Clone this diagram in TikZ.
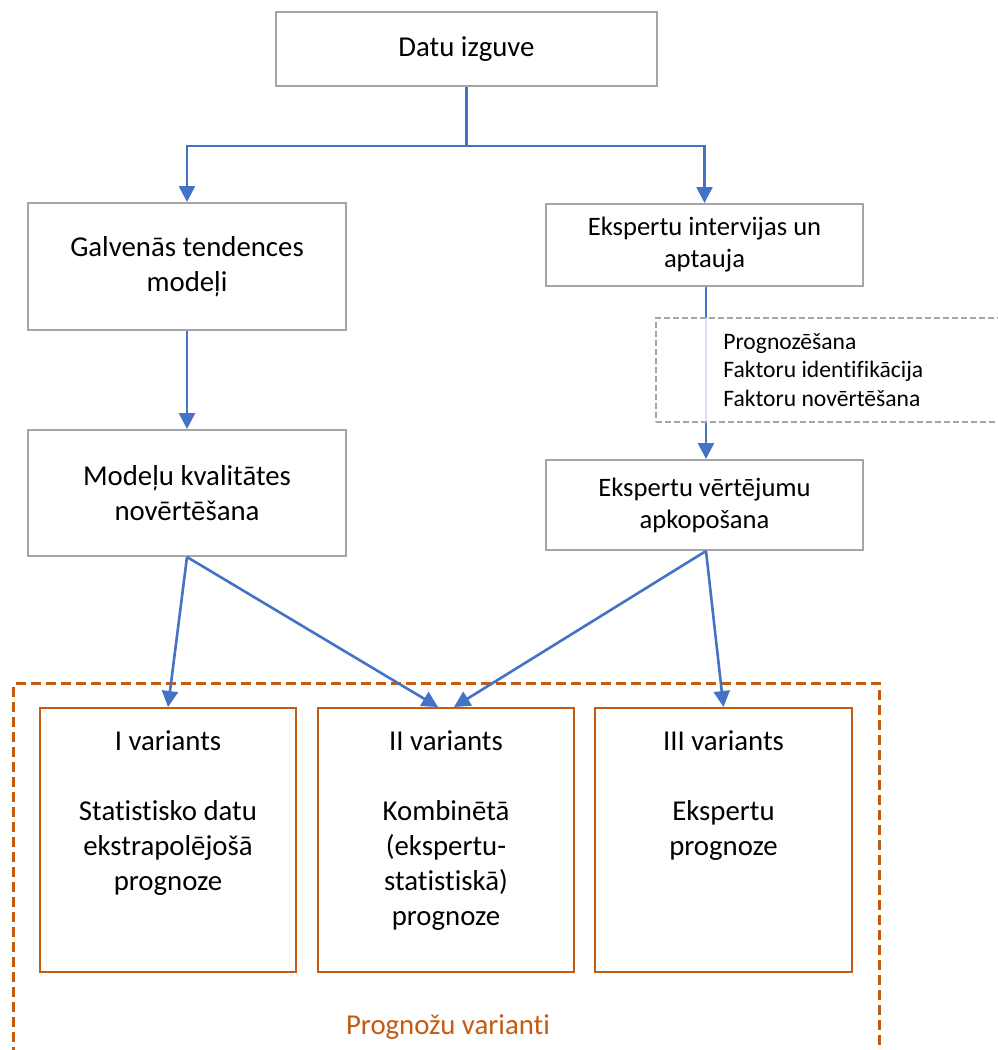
\documentclass[tikz,border=0pt]{standalone}
\usepackage{fontspec}
\setmainfont{Carlito}[Ligatures={NoCommon}]
\usetikzlibrary{arrows.meta,calc}
\definecolor{lnblue}{RGB}{68,114,196}
\definecolor{boxgray}{RGB}{165,165,165}
\definecolor{orng}{RGB}{197,90,17}
\newdimen\pu \pu=0.5pt
\newcommand\mainfs{\fontsize{14.4pt}{17.5pt}\selectfont}
\newcommand\rightfs{\fontsize{13.3pt}{16pt}\selectfont}
\newcommand\smallfs{\fontsize{11.8pt}{14.3pt}\selectfont}
\begin{document}
\begin{tikzpicture}[x=0.5pt,y=-0.5pt,
  gbox/.style={draw=boxgray,line width=1pt,fill=white,inner sep=0pt,align=center,font=\mainfs},
  obox/.style={draw=orng,line width=1pt,inner sep=0pt},
  arr/.style={draw=lnblue,line width=1.3pt,-{Triangle[length=8pt,width=8pt]}},
  vtext/.style={anchor=north,inner sep=0pt,align=center,font=\mainfs}
]
\fill[white] (0,0) rectangle (997,1050);
\useasboundingbox (0,0) rectangle (997,1050);

% top row boxes
\node[gbox,minimum width=381\pu,minimum height=74\pu] (top) at (466.5,49) {Datu izguve};
\node[gbox,minimum width=318\pu,minimum height=127\pu] (gal) at (187,266.5) {Galvenās tendences\\modeļi};
\node[gbox,font=\rightfs,minimum width=317\pu,minimum height=82\pu] (eki) at (704.5,245) {Ekspertu intervijas un\\aptauja};
\node[gbox,minimum width=318\pu,minimum height=126\pu] (mod) at (187,493) {Modeļu kvalitātes\\novērtēšana};
\node[gbox,font=\rightfs,minimum width=317\pu,minimum height=90\pu] (evt) at (704.5,505) {Ekspertu vērtējumu\\apkopošana};

% variant boxes
\node[obox,minimum width=866\pu,minimum height=380\pu,dashed,dash pattern=on 5pt off 2.5pt,line width=1.5pt,anchor=north west] (outer) at (12,682) {};
\node[obox,minimum width=256\pu,minimum height=264\pu] (v1) at (168,840) {};
\node[obox,minimum width=256\pu,minimum height=264\pu] (v2) at (446,840) {};
\node[obox,minimum width=257\pu,minimum height=264\pu] (v3) at (723.5,840) {};
\node[vtext] (v1t) at ($(v1.north)+(0,23)$) {I variants\\[17.5pt]Statistisko datu\\ekstrapolējošā\\prognoze};
\node[vtext] (v2t) at ($(v2.north)+(0,23)$) {II variants\\[17.5pt]Kombinētā\\(ekspertu-\\statistiskā)\\prognoze};
\node[vtext] (v3t) at ($(v3.north)+(0,23)$) {III variants\\[17.5pt]Ekspertu\\prognoze};
\node[font=\mainfs,text=orng,inner sep=0pt] (lbl) at (448,1027) {Prognožu varianti};

% connectors
\draw[arr] (top.south) -- ++(0,59) -| (gal.north);
\draw[arr] (top.south) -- ++(0,59) -| (eki.north);
\draw[arr] (gal.south) -- (mod.north);
\draw[arr] ($(eki.south)+(1.5,0)$) -- ($(evt.north)+(1.5,0)$);
\draw[arr] (mod.south) -- (v1.north);
\draw[arr] (mod.south) -- ($(v2.north)+(-8,0)$);
\draw[arr] ($(evt.south)+(1.5,0)$) -- ($(v2.north)+(8,0)$);
\draw[arr] ($(evt.south)+(1.5,0)$) -- (v3.north);

% dashed note box
\node[draw=boxgray,dashed,dash pattern=on 3pt off 1.5pt,line width=0.75pt,fill=white,fill opacity=0.8,draw opacity=1,inner sep=0pt,minimum width=360\pu,minimum height=104\pu,anchor=west] (note) at (655,370) {};
\node[anchor=west,inner sep=0pt,align=left,font=\smallfs] (notet) at (723,370) {Prognozēšana\\Faktoru identifikācija\\Faktoru novērtēšana};
\end{tikzpicture}
\end{document}
